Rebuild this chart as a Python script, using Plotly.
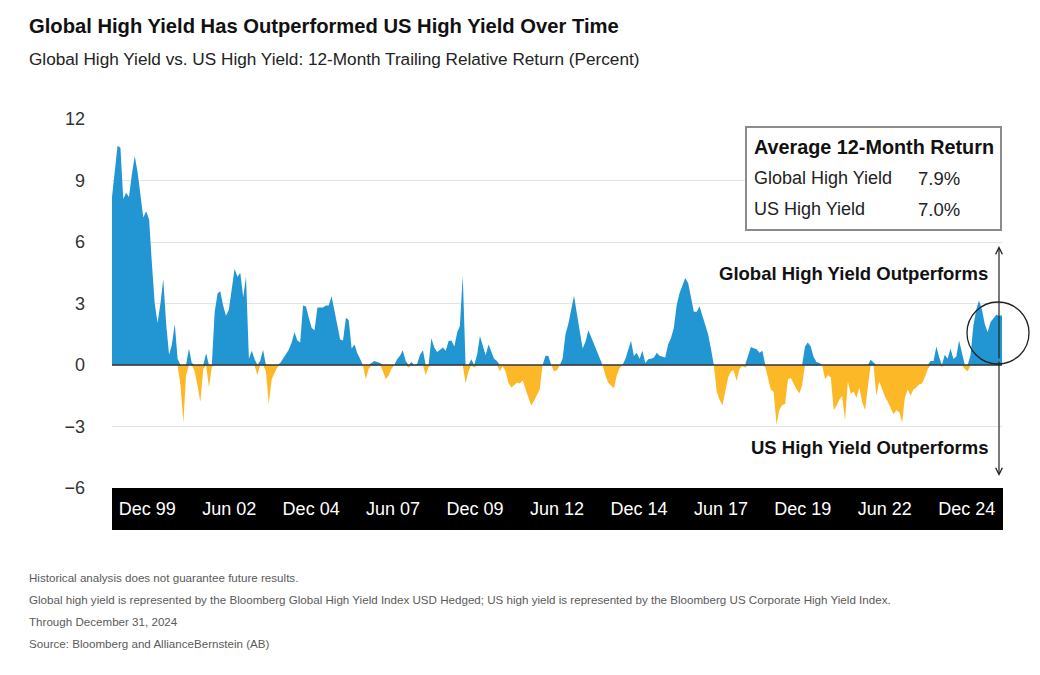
import pandas as pd
import plotly.graph_objects as go

# ---------------- data (12-month trailing relative return, %, monthly) ----------------
start_month = "1998-12-31"
rel_1998_2006 = [
    8.2,
    9.6, 10.7, 10.6, 8.1, 8.4, 8.2, 9.3, 10.2, 9.4, 8.3, 7.2, 7.5,
    7.1, 5.0, 3.0, 2.05, 3.0, 4.2, 2.0, 0.5, 1.0, 2.0, 0.3, -1.0,
    -2.8, -0.5, 0.8, 0.1, -0.3, -1.0, -1.8, -0.2, 0.57, -1.1, -0.1, 2.6,
    3.5, 3.6, 2.9, 2.4, 2.7, 3.8, 4.7, 4.3, 4.5, 3.3, 4.3, 0.3,
    0.7, 0.3, -0.5, 0.2, 0.74, -0.3, -1.9, -0.7, -0.4, -0.1, 0.1, 0.3,
    0.5, 0.74, 1.1, 1.6, 1.2, 1.1, 2.9, 2.85, 2.3, 1.8, 1.7, 2.8,
    2.8, 2.8, 2.9, 2.9, 3.35, 2.6, 2.0, 1.25, 1.2, 2.3, 2.2, 0.8,
    1.0, 0.6, 0.3, 0.0, -0.7, -0.2, 0.1, 0.2, 0.15, 0.1, -0.3, -0.7,
]
rel_2007_2015 = [
    -0.5, -0.2, 0.0, 0.28, 0.45, 0.72, 0.2, -0.13, 0.15, 0.0, 0.05, 0.5,
    0.72, -0.5, -0.1, 1.3, 0.85, 0.64, 0.77, 0.85, 0.7, 1.17, 1.2, 0.9,
    1.6, 1.9, 4.35, -0.9, -0.3, 0.28, -0.13, 0.5, 1.42, 0.9, 0.47, 1.0,
    0.6, 0.3, 0.2, -0.3, -0.05, -0.3, -0.86, -1.1, -1.0, -0.86, -0.9, -0.75,
    -1.2, -1.6, -1.97, -1.75, -1.45, -1.2, 0.0, 0.45, 0.45, 0.0, -0.3, -0.25,
    0.0, 0.3, 1.5, 2.0, 2.7, 3.38, 2.5, 1.6, 0.8, 1.15, 1.7, 1.35,
    1.0, 0.69, 0.3, 0.0, -0.5, -0.87, -1.0, -1.14, -0.5, -0.15, 0.0, 0.3,
    0.8, 1.18, 0.44, 0.6, 0.3, 0.69, 0.1, 0.28, 0.3, 0.36, 0.6, 0.45,
    0.4, 0.36, 1.0, 1.3, 1.8, 2.9, 3.5, 3.9, 4.25, 4.0, 3.3, 2.6,
]
rel_2016_2024 = [
    2.6, 2.86, 2.4, 2.0, 1.5, 0.8, 0.0, -1.3, -1.7, -1.96, -1.2, -0.6,
    -0.3, -0.25, -0.78, -0.2, -0.05, -0.13, 0.45, 0.88, 0.82, 0.77, 0.6, 0.69,
    -0.1, -0.7, -1.2, -1.3, -2.9, -2.2, -1.95, -1.9, -0.7, -0.64, -0.9, -1.2,
    -1.38, -1.0, 0.9, 1.1, 0.9, 0.4, 0.15, 0.1, 0.0, -0.7, -0.5, -0.6,
    -2.2, -2.0, -1.7, -1.5, -2.7, -0.8, -1.4, -1.3, -1.6, -1.1, -1.8, -2.2,
    -1.0, 0.26, 0.1, -1.5, -0.8, -1.2, -1.54, -1.8, -2.1, -2.4, -2.2, -2.3,
    -2.8, -1.6, -1.2, -1.5, -1.2, -1.1, -0.95, -0.9, -0.6, -0.2, 0.2, 0.2,
    0.9, 0.4, -0.1, 0.5, 0.3, 0.8, 0.3, 0.4, 1.2, 0.6, -0.2, -0.3,
    0.5, 1.9, 2.7, 3.15, 2.7, 2.0, 1.6, 2.1, 2.3, 2.45, 2.4, 2.43,
]
x_tick_labels = ["Dec 99", "Jun 02", "Dec 04", "Jun 07", "Dec 09", "Jun 12",
                 "Dec 14", "Jun 17", "Dec 19", "Jun 22", "Dec 24"]
y_tick_values = [-6, -3, 0, 3, 6, 9, 12]
y_tick_labels = ["\u22126", "\u22123", "0", "3", "6", "9", "12"]
avg_names = ["Global High Yield", "US High Yield"]
avg_values = ["7.9%", "7.0%"]

values = rel_1998_2006 + rel_2007_2015 + rel_2016_2024
dates = pd.date_range(start_month, periods=len(values), freq="ME")
pos = [v if v > 0 else 0 for v in values]
neg = [v if v < 0 else 0 for v in values]

BLUE = "#2196D3"
YELLOW = "#FDB827"
SANS = "Liberation Sans, Arial, Helvetica, sans-serif"

# layout geometry: target pixels in the screenshot; the page body adds an 8px offset
OFF = 8
W, H = 1040 - OFF, 675 - OFF
L, R, T, B = 112 - OFF, 1002 - OFF, 119 - OFF, 488 - OFF


def px_x(p):
    return (p - OFF - L) / (R - L)


def px_y(p):
    return (B - (p - OFF)) / (B - T)


fig = go.Figure()
fig.add_trace(go.Scatter(x=dates, y=pos, mode="lines", line=dict(width=0, color=BLUE),
                         fill="tozeroy", fillcolor=BLUE, hoverinfo="skip", showlegend=False))
fig.add_trace(go.Scatter(x=dates, y=neg, mode="lines", line=dict(width=0, color=YELLOW),
                         fill="tozeroy", fillcolor=YELLOW, hoverinfo="skip", showlegend=False))
# invisible carrier so the date-band label axis is drawn
fig.add_trace(go.Scatter(x=x_tick_labels, y=[None] * len(x_tick_labels), xaxis="x2", yaxis="y",
                         mode="markers", marker=dict(opacity=0), hoverinfo="skip", showlegend=False))

shapes = [
    # zero line
    dict(type="line", xref="paper", yref="y", x0=0, x1=1, y0=0, y1=0,
         line=dict(color="#333333", width=1.6), layer="above"),
    # black date band
    dict(type="rect", xref="paper", yref="paper", x0=0, x1=px_x(1003), y0=px_y(530), y1=0,
         fillcolor="black", line=dict(width=0), layer="below"),
    # average return box
    dict(type="rect", xref="paper", yref="paper", x0=px_x(746), x1=px_x(1001),
         y0=px_y(230), y1=px_y(127), fillcolor="white",
         line=dict(color="#8c8c8c", width=2), layer="above"),
    # highlight circle
    dict(type="circle", xref="paper", yref="paper", x0=px_x(967), x1=px_x(1029),
         y0=px_y(364), y1=px_y(302), line=dict(color="#222222", width=1.3), layer="above"),
]

ann = []
ann.append(dict(text="<b>Global High Yield Has Outperformed US High Yield Over Time</b>",
                x=px_x(27), y=px_y(26), xanchor="left", yanchor="middle",
                font=dict(family=SANS, size=20.2, color="#111111")))
ann.append(dict(text="Global High Yield vs. US High Yield: 12-Month Trailing Relative Return (Percent)",
                x=px_x(27), y=px_y(59), xanchor="left", yanchor="middle",
                font=dict(family=SANS, size=17.2, color="#222222")))
foot = ["Historical analysis does not guarantee future results.",
        "Global high yield is represented by the Bloomberg Global High Yield Index USD Hedged; US high yield is represented by the Bloomberg US Corporate High Yield Index.",
        "Through December 31, 2024",
        "Source: Bloomberg and AllianceBernstein (AB)"]
for i, t in enumerate(foot):
    ann.append(dict(text=t, x=px_x(27), y=px_y(577 + 22 * i), xanchor="left", yanchor="middle",
                    font=dict(family=SANS, size=11.6, color="#5a5a5a")))
# box content
ann.append(dict(text="<b>Average 12-Month Return</b>", x=px_x(752), y=px_y(147),
                xanchor="left", yanchor="middle", font=dict(family=SANS, size=19.8, color="#111111")))
for i, (n, v) in enumerate(zip(avg_names, avg_values)):
    yy = px_y(178 + 31 * i)
    ann.append(dict(text=n, x=px_x(752), y=yy, xanchor="left", yanchor="middle",
                    font=dict(family=SANS, size=18, color="#222222")))
    ann.append(dict(text=v, x=px_x(916), y=yy, xanchor="left", yanchor="middle",
                    font=dict(family=SANS, size=18.5, color="#222222")))
# outperform labels
ann.append(dict(text="<b>Global High Yield Outperforms</b>", x=px_x(990), y=px_y(273),
                xanchor="right", yanchor="middle", font=dict(family=SANS, size=18.5, color="#111111")))
ann.append(dict(text="<b>US High Yield Outperforms</b>", x=px_x(990), y=px_y(447),
                xanchor="right", yanchor="middle", font=dict(family=SANS, size=18.5, color="#111111")))
# vertical double arrow
for tip, tail in ((246, 360), (476, 360)):
    ann.append(dict(text="", x=px_x(999), y=px_y(tip), axref="pixel", ayref="pixel",
                    ax=0, ay=tail - tip, showarrow=True, arrowhead=5,
                    arrowsize=1.1, arrowwidth=1.2, arrowcolor="#222222"))
for a in ann:
    a.setdefault("xref", "paper")
    a.setdefault("yref", "paper")
    a.setdefault("showarrow", False)

fig.update_layout(
    width=W, height=H,
    margin=dict(l=L, r=W - R, t=T, b=H - B, pad=0),
    paper_bgcolor="white", plot_bgcolor="white",
    showlegend=False,
    shapes=shapes, annotations=ann,
    xaxis=dict(type="date", range=[dates[0], dates[-1]], showticklabels=False,
               showgrid=False, zeroline=False, showline=False, ticks=""),
    xaxis2=dict(type="category", overlaying="x", anchor="y", side="bottom",
                range=[-0.43, len(x_tick_labels) - 1 + 0.43],
                tickfont=dict(family=SANS, size=18, color="white"), showgrid=False,
                zeroline=False, showline=False, ticks="", ticklabelstandoff=8),
    yaxis=dict(range=[-6, 12], tickmode="array", tickvals=y_tick_values, ticktext=y_tick_labels,
               tickfont=dict(family=SANS, size=18, color="#333333"), showgrid=True,
               gridcolor="#e3e3e3", gridwidth=1, zeroline=False, showline=False, ticks="",
               ticklabelstandoff=26),
)
fig.write_html("out.html")
